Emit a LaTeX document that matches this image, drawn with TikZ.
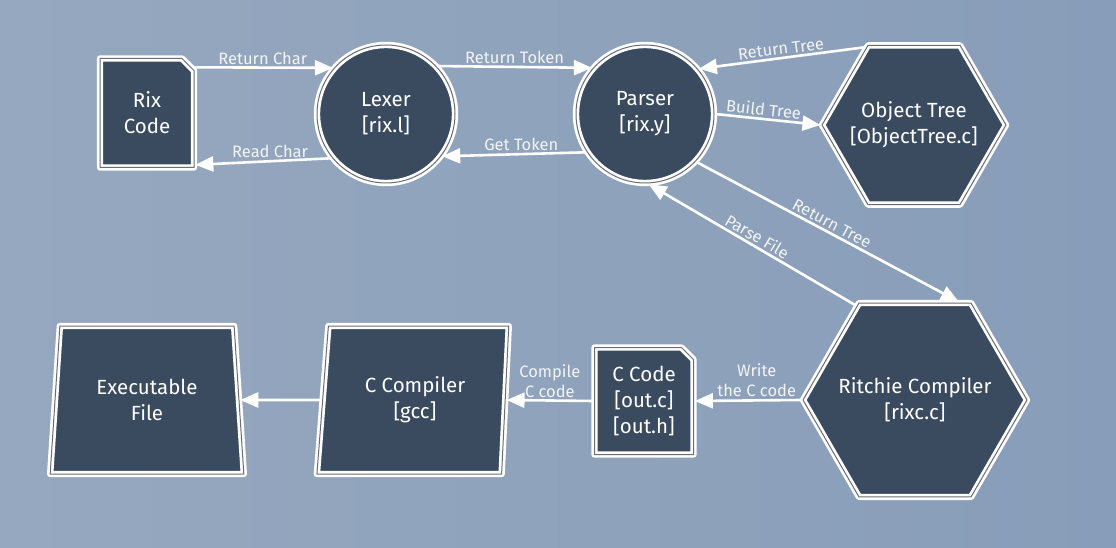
\documentclass[tikz,border=0pt]{standalone}
\usepackage{fontspec}
\setmainfont{Fira Sans}
\usetikzlibrary{shapes.geometric,shapes.misc,arrows.meta}

\definecolor{bgtop}{RGB}{150,168,191}
\definecolor{bgbot}{RGB}{136,157,185}
\definecolor{slate}{RGB}{58,75,95}
\definecolor{seam}{RGB}{105,108,114}

\tikzset{
  part/.style={draw=white, line width=2.7pt, double=seam, double distance=1pt,
    line join=round, fill=slate, text=white, align=center, inner sep=1pt,
    font=\fontsize{20.5}{26}\selectfont},
  file/.style={part, chamfered rectangle, chamfered rectangle corners=north east,
    chamfered rectangle xsep=6pt, chamfered rectangle ysep=6pt},
  stage/.style={part, circle, minimum size=138pt},
  store/.style={part, regular polygon, regular polygon sides=6, inner sep=-12pt},
  tool/.style={part, trapezium, trapezium stretches},
  link/.style={draw=white, line width=2.6pt, -{Triangle[length=18pt,width=15pt]}},
  lbl/.style={font=\fontsize{16.5}{20}\selectfont, text=white!94!slate, inner sep=2pt, align=center}
}

\begin{document}
\begin{tikzpicture}[x=1pt,y=-1pt]
\shade[left color=bgtop, right color=bgbot] (0,0) rectangle (1116,548);
\useasboundingbox (0,0) rectangle (1116,548);

% top row
\node[file, minimum width=94pt, minimum height=109pt] (rix) at (147,113) {Rix\\Code};
\node[stage] (lexer) at (386,114) {Lexer\\{[rix.l]}};
\node[stage] (parser) at (645,114) {Parser\\{[rix.y]}};
\node[store, minimum size=184pt] (objtree) at (914,125) {Object Tree\\{[ObjectTree.c]}};

% bottom row
\node[store, minimum size=224pt] (ritchie) at (915,400) {Ritchie Compiler\\{[rixc.c]}};
\node[file, minimum width=99pt, minimum height=107pt] (ccode) at (644,401) {C Code\\{[out.c]}\\{[out.h]}};
\node[tool, trapezium left angle=82, trapezium right angle=95,
  minimum width=192pt, minimum height=148pt] (ccomp) at (415,400) {C Compiler\\{[gcc]}};
\node[tool, trapezium left angle=82.5, trapezium right angle=82.5,
  minimum width=194pt, minimum height=148pt] (exe) at (147,400) {Executable\\File};

% connectors
\draw[link] (rix.45) -- node[lbl, above] {Return Char} (lexer.139);
\draw[link] (lexer.219) -- node[lbl, above, pos=0.45] {Read Char} (rix.-47);
\draw[link] (lexer.43) -- node[lbl, above] {Return Token} (parser.139);
\draw[link] (parser.213) -- node[lbl, above, pos=0.45] {Get Token} (lexer.-37);
\draw[link] (objtree.122) -- node[lbl, above, sloped] {Return Tree} (parser.40);
\draw[link] (parser.0) -- node[lbl, above, sloped, pos=0.45] {Build Tree} (objtree.180);
\draw[link] (parser.-43) -- node[lbl, above, sloped] {Return Tree} (ritchie.66);
\draw[link] (ritchie.122) -- node[lbl, above, sloped] {Parse File} (parser.-87);
\draw[link] (ritchie.180) -- node[lbl, above, pos=0.42] {Write\\the C code} (ccode.0);
\draw[link] (ccode.180) -- node[lbl, above] {Compile\\C code} (ccomp.0);
\draw[link] (ccomp.180) -- (exe.0);

\end{tikzpicture}
\end{document}
